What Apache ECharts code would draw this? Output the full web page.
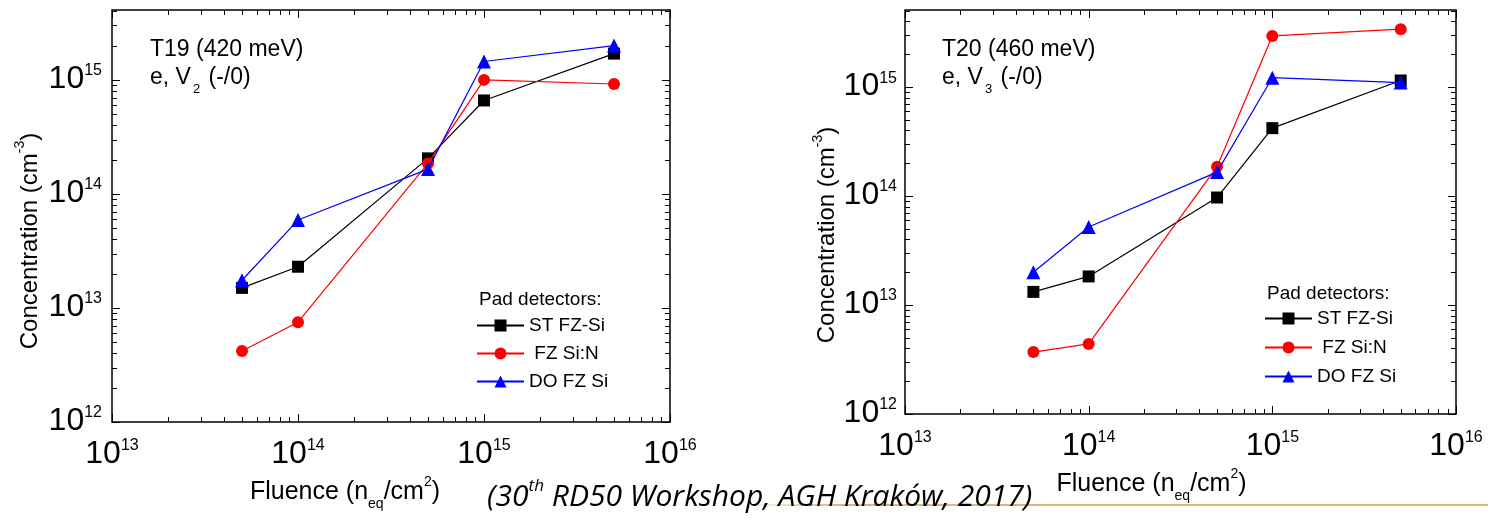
<!DOCTYPE html>
<html><head><meta charset="utf-8">
<script src="https://cdn.jsdelivr.net/npm/echarts@6/dist/echarts.min.js"></script>
<style>html,body{margin:0;padding:0;background:#fff}#c{width:1488px;height:523px}</style>
</head><body><div id="c"></div>
<script>
const FONT = '"Liberation Sans", Arial, Helvetica, sans-serif';
const CAPFONT = '"Open Sans", Lato, sans-serif';

// ---- data ----
const fluence = [5e13, 1e14, 5e14, 1e15, 5e15];
const seriesNames = ['ST FZ-Si', 'FZ Si:N', 'DO FZ Si'];
const t19ST  = [1.5e13, 2.3e13, 2.05e14, 6.6e14, 1.7e15];
const t19FZN = [4.2e12, 7.5e12, 1.85e14, 1.0e15, 9.2e14];
const t19DO  = [1.75e13, 5.9e13, 1.65e14, 1.45e15, 2.0e15];
const t20ST  = [1.32e13, 1.83e13, 9.7e13, 4.2e14, 1.15e15];
const t20FZN = [3.7e12, 4.4e12, 1.86e14, 2.95e15, 3.4e15];
const t20DO  = [2.0e13, 5.2e13, 1.66e14, 1.22e15, 1.1e15];
const xDecades = [13, 14, 15, 16];
const yDecades = [12, 13, 14, 15];
const minorMultipliers = [2, 3, 4, 5, 6, 7, 8, 9];
const xRange = [1e13, 1e16];
const yRangeT19 = [1e12, 4.1e15];
const yRangeT20 = [1e12, 5.1e15];
const panelLabels = [
  { title: 'T19 (420 meV)', level: 'e, V', sub: '2', charge: ' (-/0)' },
  { title: 'T20 (460 meV)', level: 'e, V', sub: '3', charge: ' (-/0)' }
];
const legendTitle = 'Pad detectors:';
const caption = { pre: '(30', sup: 'th', post: ' RD50 Workshop, AGH Kraków, 2017)' };

// ---- helpers ----
function decadeLabel(v) {
  const e = Math.log10(v), r = Math.round(e);
  if (Math.abs(e - r) > 1e-6) return '';
  return '{b|10}{s|' + r + '}';
}
const tickRich = {
  b: { fontSize: 32, fontFamily: FONT, color: '#000', lineHeight: 30, verticalAlign: 'bottom' },
  s: { fontSize: 16, fontFamily: FONT, color: '#000', lineHeight: 16, padding: [0, 0, 16, 0], verticalAlign: 'bottom' }
};
const nameRich = {
  t: { fontSize: 25, fontFamily: FONT, color: '#000', lineHeight: 26, padding: [5, 0, 0, 0], verticalAlign: 'top' },
  sup: { fontSize: 14, fontFamily: FONT, color: '#000', lineHeight: 14, verticalAlign: 'top' },
  sub: { fontSize: 14, fontFamily: FONT, color: '#000', lineHeight: 14, padding: [22, 0, 0, 0], verticalAlign: 'top' }
};
const yNameRich = Object.assign({}, nameRich, {
  t: Object.assign({}, nameRich.t, { fontSize: 24 })
});
const xName = '{t|Fluence (n}{sub|eq}{t|/cm}{sup|2}{t|)}';
const yName = '{t|Concentration (cm}{sup|-3}{t|)}';

function tickRenderer(yRange) {
  return function (params, api) {
    const cs = params.coordSys;
    const x0 = cs.x, x1 = cs.x + cs.width, y0 = cs.y, y1 = cs.y + cs.height;
    const children = [];
    const add = (a, b, c, d) => children.push({ type: 'line', shape: { x1: a, y1: b, x2: c, y2: d }, style: { stroke: '#000', lineWidth: 1 } });
    xDecades.forEach(d => [1].concat(minorMultipliers).forEach(m => {
      const v = m * Math.pow(10, d);
      if (v < xRange[0] * 0.999 || v > xRange[1] * 1.001) return;
      const px = Math.round(api.coord([v, yRange[0]])[0]) + 0.5;
      const len = m === 1 ? 8 : 5;
      add(px, y1, px, y1 - len); add(px, y0, px, y0 + len);
    }));
    yDecades.forEach(d => [1].concat(minorMultipliers).forEach(m => {
      const v = m * Math.pow(10, d);
      if (v < yRange[0] * 0.999 || v > yRange[1] * 1.001) return;
      const py = Math.round(api.coord([xRange[0], v])[1]) + 0.5;
      const len = m === 1 ? 8 : 5;
      add(x0, py, x0 + len, py); add(x1, py, x1 - len, py);
    }));
    return { type: 'group', children };
  };
}

const styles = [
  { color: '#000000', symbol: 'rect', size: 12 },
  { color: '#ff0000', symbol: 'circle', size: 12 },
  { color: '#0000ff', symbol: 'triangle', size: 14 }
];
function lineSeries(name, idx, vals, gi) {
  const st = styles[idx];
  return {
    type: 'line', name, xAxisIndex: gi, yAxisIndex: gi,
    data: fluence.map((x, i) => [x, vals[i]]),
    symbol: st.symbol, symbolSize: st.size, showSymbol: true,
    itemStyle: { color: st.color },
    lineStyle: { color: st.color, width: 1.2 },
    z: 3 + idx
  };
}

const grids = [
  { left: 112, top: 10, width: 558, height: 412 },
  { left: 905, top: 10, width: 551, height: 404 }
];
const yRanges = [yRangeT19, yRangeT20];

const option = {
  animation: false,
  backgroundColor: '#fff',
  grid: grids.map(g => Object.assign({ show: true, borderColor: '#000', borderWidth: 1.5, backgroundColor: 'transparent' }, g)),
  xAxis: [0, 1].map(i => ({
    type: 'log', logBase: 10, gridIndex: i, min: xRange[0], max: xRange[1],
    axisLine: { show: false }, axisTick: { show: false }, splitLine: { show: false },
    axisLabel: { formatter: decadeLabel, margin: 18, rich: tickRich, showMinLabel: true, showMaxLabel: true, hideOverlap: false },
    name: xName, nameLocation: 'middle', nameGap: i === 0 ? 44 : 42,
    nameTextStyle: { rich: nameRich, padding: [0, i === 0 ? 92 : 58, 0, 0] }
  })),
  yAxis: [0, 1].map(i => ({
    type: 'log', logBase: 10, gridIndex: i, min: yRanges[i][0], max: yRanges[i][1],
    axisLine: { show: false }, axisTick: { show: false }, splitLine: { show: false },
    axisLabel: { formatter: decadeLabel, margin: i === 0 ? 10 : 8, rich: tickRich, hideOverlap: false },
    name: yName, nameLocation: 'middle', nameGap: i === 0 ? 73 : 66,
    nameTextStyle: { rich: yNameRich, padding: [0, i === 0 ? 50 : 46, 0, 0] }
  })),
  legend: [
    { left: 476, top: 316 }, { left: 1264, top: 309 }
  ].map((p, i) => ({
    orient: 'vertical', left: p.left, top: p.top, padding: 0,
    itemWidth: 47, itemHeight: 15, itemGap: i === 0 ? 9 : 10,
    data: seriesNames, selectedMode: false,
    formatter: n => (n === 'FZ Si:N' ? ' ' + n : n),
    textStyle: { fontSize: 19, fontFamily: FONT, color: '#000', lineHeight: 15 }
  })),
  series: [
    lineSeries(seriesNames[0], 0, t19ST, 0),
    lineSeries(seriesNames[1], 1, t19FZN, 0),
    lineSeries(seriesNames[2], 2, t19DO, 0),
    lineSeries(seriesNames[0], 0, t20ST, 1),
    lineSeries(seriesNames[1], 1, t20FZN, 1),
    lineSeries(seriesNames[2], 2, t20DO, 1),
    { type: 'custom', xAxisIndex: 0, yAxisIndex: 0, silent: true, data: [[1e14, 1e13]], renderItem: tickRenderer(yRangeT19), z: 10 },
    { type: 'custom', xAxisIndex: 1, yAxisIndex: 1, silent: true, data: [[1e14, 1e13]], renderItem: tickRenderer(yRangeT20), z: 10 }
  ],
  graphic: [
    { type: 'line', z: 1, shape: { x1: 755, y1: 505, x2: 1488, y2: 505 },
      style: { lineWidth: 2, stroke: { type: 'linear', x: 0, y: 0, x2: 1, y2: 0, colorStops: [
        { offset: 0, color: 'rgba(220,196,140,0.2)' }, { offset: 0.12, color: 'rgba(214,186,120,1)' }, { offset: 1, color: 'rgba(214,186,120,1)' }] } } },
    { type: 'text', z: 5, left: 487, top: 478,
      style: { text: '{a|' + caption.pre + '}{s|' + caption.sup + '}{a|' + caption.post + '}',
        rich: { a: { fontSize: 30, fontStyle: 'italic', fontFamily: CAPFONT, fill: '#000', lineHeight: 34, verticalAlign: 'top', padding: [4, 0, 0, 0] },
                s: { fontSize: 17, fontStyle: 'italic', fontFamily: CAPFONT, fill: '#000', lineHeight: 18, verticalAlign: 'top' } } } },
    ...panelLabels.flatMap((p, i) => {
      const x = i === 0 ? 150 : 942;
      return [
        { type: 'text', z: 5, left: x, top: 38, style: { text: p.title, fontSize: 23, fontFamily: FONT, fill: '#000' } },
        { type: 'text', z: 5, left: x, top: 66, style: { text: '{a|' + p.level + '}{b|' + p.sub + '}{a|' + p.charge + '}',
          rich: { a: { fontSize: 23, fontFamily: FONT, fill: '#000', lineHeight: 24, verticalAlign: 'top' },
                  b: { fontSize: 13, fontFamily: FONT, fill: '#000', lineHeight: 13, padding: [17, 2, 0, 2], verticalAlign: 'top' } } } }
      ];
    }),
    { type: 'text', z: 5, left: 479, top: 290, style: { text: legendTitle, fontSize: 19, fontFamily: FONT, fill: '#000' } },
    { type: 'text', z: 5, left: 1267, top: 284, style: { text: legendTitle, fontSize: 19, fontFamily: FONT, fill: '#000' } }
  ]
};
const chart = echarts.init(document.getElementById('c'), null, { renderer: 'canvas' });
chart.setOption(option);
</script>
</body></html>
